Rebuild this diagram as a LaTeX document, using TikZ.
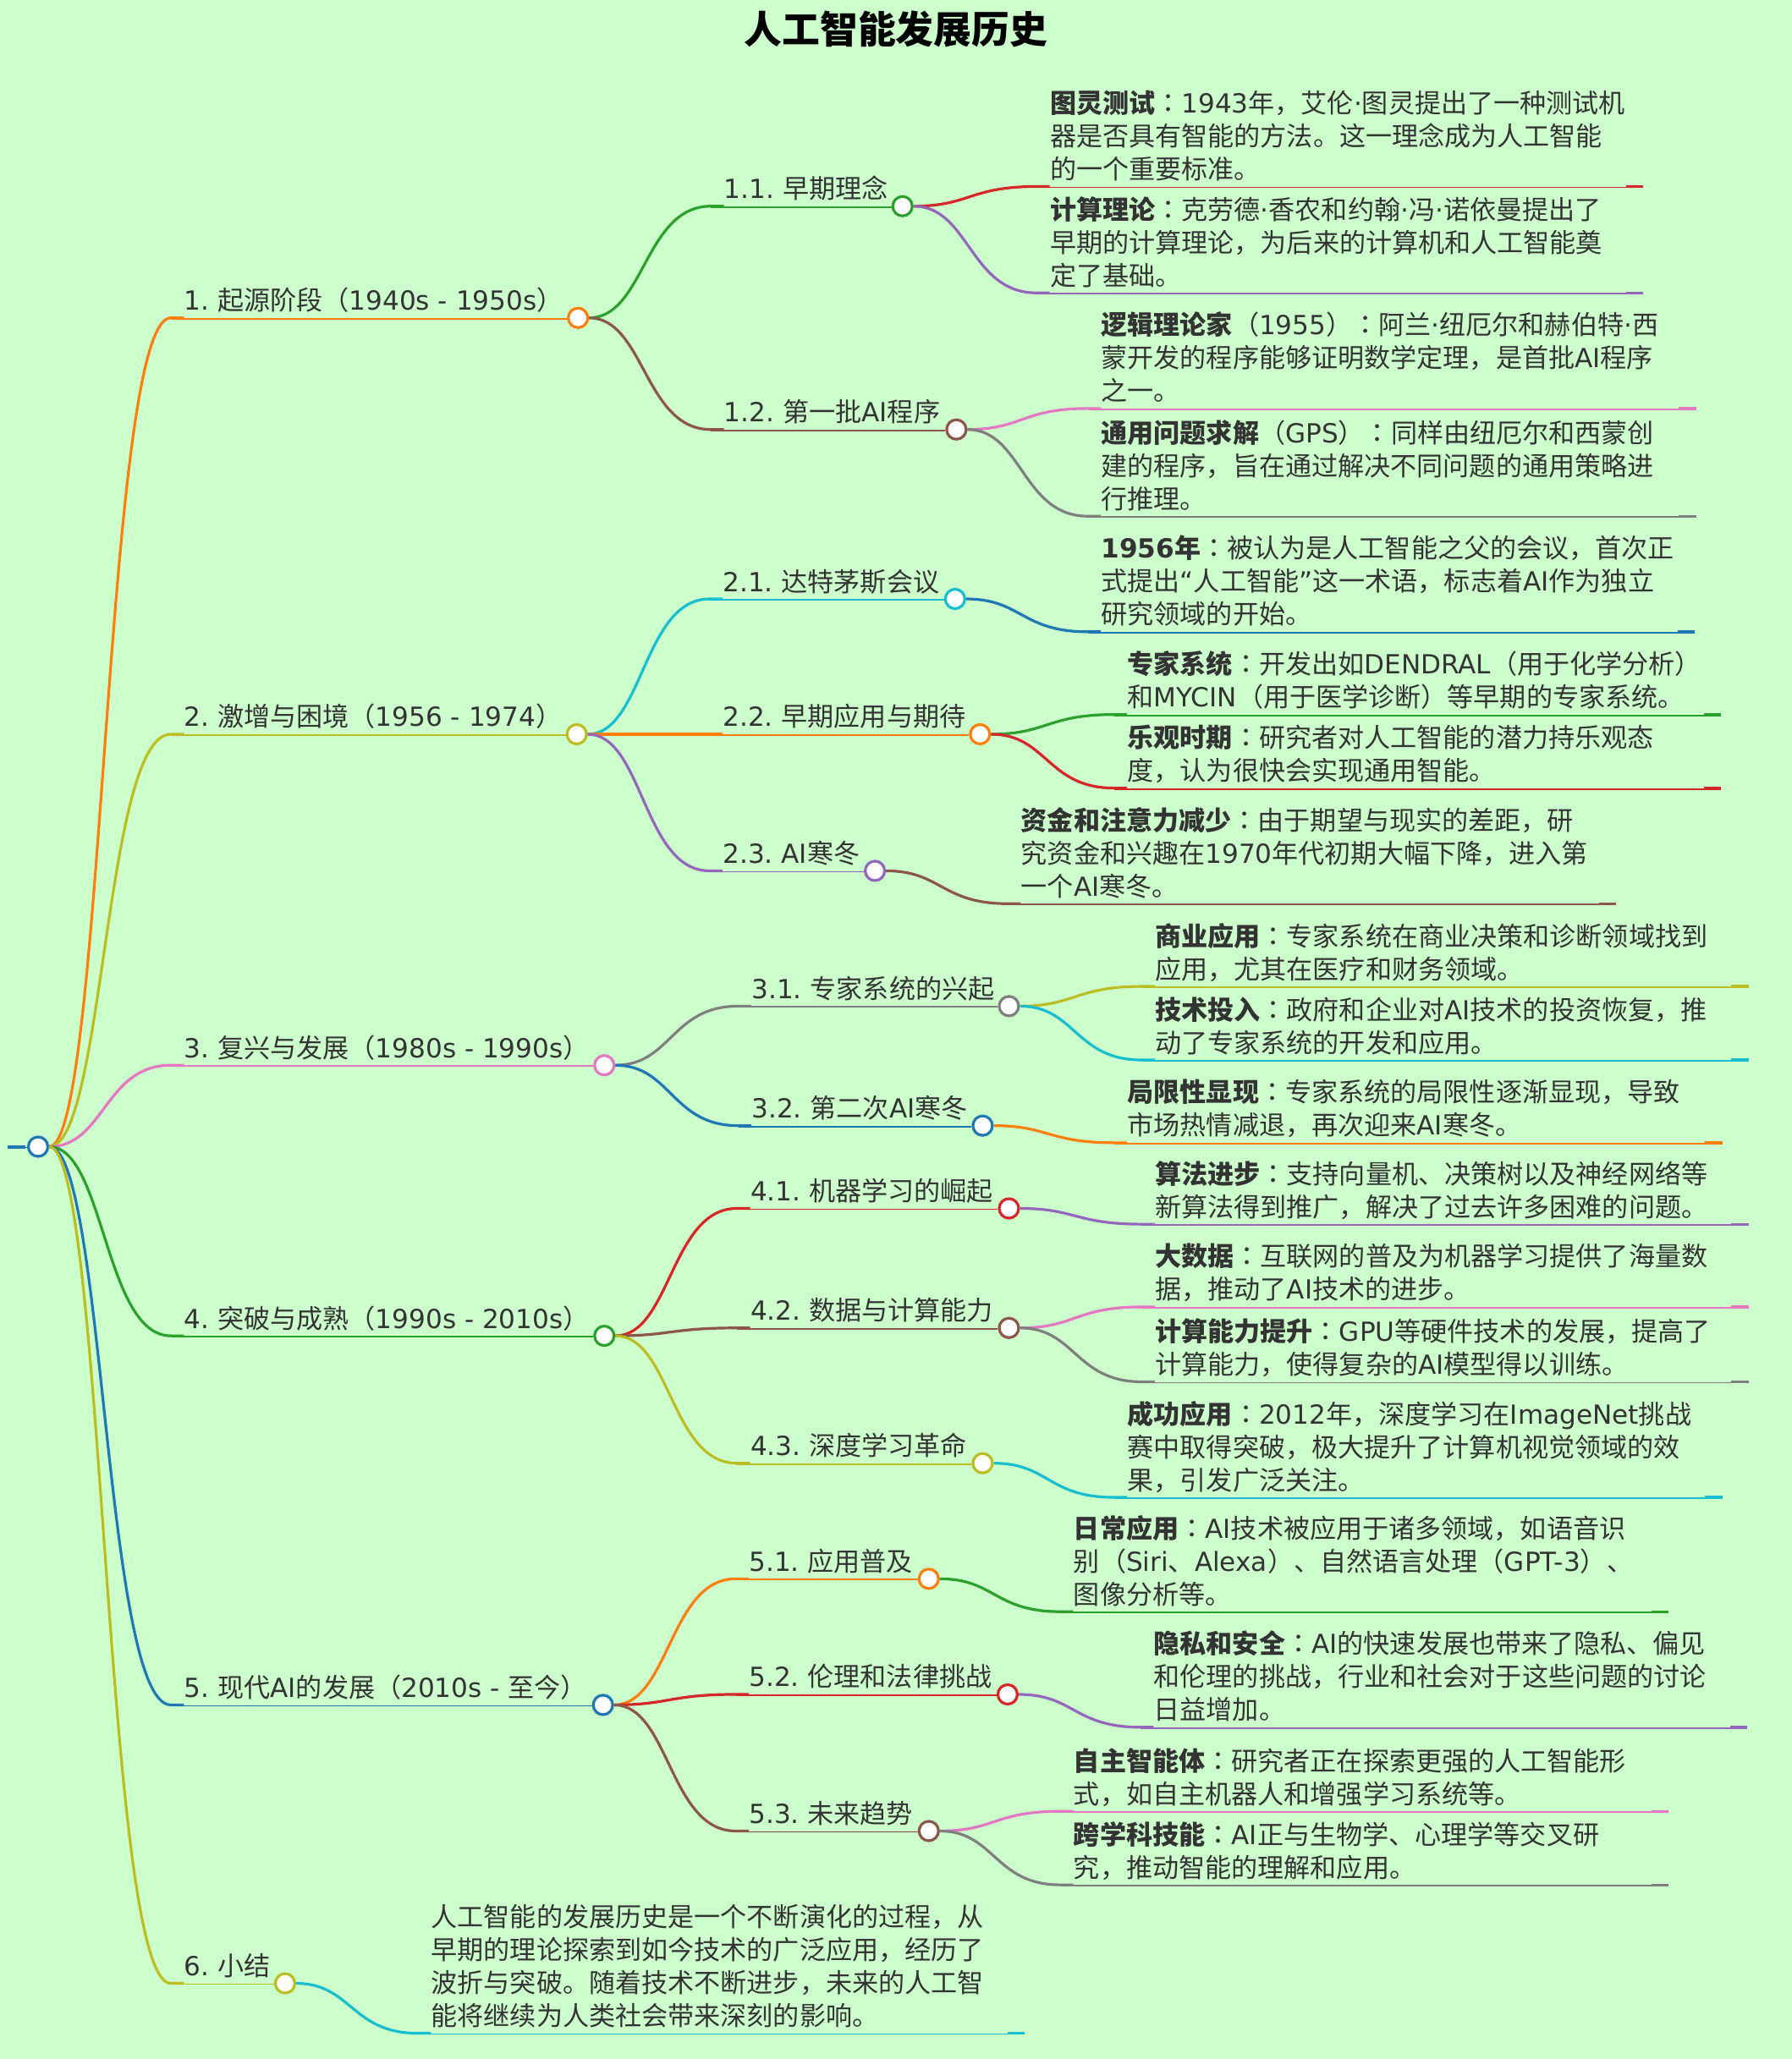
\documentclass[tikz,border=0pt]{standalone}
\usepackage{fontspec}
\usetikzlibrary{calc}
\setmainfont{DejaVu Sans}
\newfontfamily\cjk{Noto Sans CJK SC}
\newfontfamily\cjkpunct{Noto Sans CJK TC}
% Chinese characters switch to the CJK family by themselves
\XeTeXinterchartokenstate=1
\newXeTeXintercharclass\cjkclass
\newXeTeXintercharclass\punctclass
\newcount\cjkchar
\cjkchar="3000 \loop \XeTeXcharclass\cjkchar=\cjkclass \advance\cjkchar by 1 \ifnum\cjkchar<"3040 \repeat
\cjkchar="4E00 \loop \XeTeXcharclass\cjkchar=\cjkclass \advance\cjkchar by 1 \ifnum\cjkchar<"A000 \repeat
\cjkchar="FF00 \loop \XeTeXcharclass\cjkchar=\cjkclass \advance\cjkchar by 1 \ifnum\cjkchar<"FFF0 \repeat
\XeTeXcharclass"FF08=\punctclass
\XeTeXcharclass"FF09=\punctclass
\XeTeXcharclass"FF1A=\punctclass
\XeTeXinterchartoks 0 \cjkclass = {\cjk}
\XeTeXinterchartoks 4095 \cjkclass = {\cjk}
\XeTeXinterchartoks \cjkclass 0 = {\rmfamily}
\XeTeXinterchartoks \cjkclass 4095 = {\rmfamily}
\XeTeXinterchartoks 0 \punctclass = {\cjkpunct}
\XeTeXinterchartoks 4095 \punctclass = {\cjkpunct}
\XeTeXinterchartoks \cjkclass \punctclass = {\cjkpunct}
\XeTeXinterchartoks \punctclass \cjkclass = {\cjk}
\XeTeXinterchartoks \punctclass 0 = {\rmfamily}
\XeTeXinterchartoks \punctclass 4095 = {\rmfamily}
\definecolor{paper}{HTML}{CCFFCC}
\definecolor{ink}{HTML}{333333}
\definecolor{cBlue}{HTML}{1F77B4}
\definecolor{cOrange}{HTML}{FF7F0E}
\definecolor{cGreen}{HTML}{2CA02C}
\definecolor{cRed}{HTML}{D62728}
\definecolor{cPurple}{HTML}{9467BD}
\definecolor{cBrown}{HTML}{8C564B}
\definecolor{cPink}{HTML}{E377C2}
\definecolor{cGray}{HTML}{7F7F7F}
\definecolor{cOlive}{HTML}{BCBD22}
\definecolor{cCyan}{HTML}{17BECF}
\frenchspacing
\tikzset{
  knob/.style={circle, draw=#1, fill=white, line width=1.6pt, minimum size=11.5pt, inner sep=0pt},
  tag/.style={anchor=south west, inner sep=0pt, xshift=7.764pt, yshift=-1.55pt, align=left, text=ink,
    font=\fontsize{15.55}{19.5}\selectfont, execute at end node=\strut},
  link/.style={line width=1.6pt},
  rule/.style={line width=.9pt, transform canvas={yshift=-.5pt}},
  curve/.style={to path={let \p1=(\tikztostart), \p2=(\tikztotarget) in
    .. controls ({(\x1+\x2)/2},\y1) and ({(\x1+\x2)/2},\y2) .. (\tikztotarget)}}
}

\begin{document}
\begin{tikzpicture}[x=.7764pt, y=-.7764pt]
	\fill[paper] (0,0) rectangle (1364,1567.6);
	\useasboundingbox (0,0) rectangle (1364,1567.6);
	\node[font=\fontsize{22.4}{26}\selectfont\bfseries, text=black] (title) at (682,22) {人工智能发展历史};

	% root
	\coordinate (s0) at (6,873);
	\node[knob=cBlue] (n0) at (29,873) {};

	% first level
	\coordinate (s1) at (130,242);
	\node[knob=cOrange] (n1) at (440,242) {};
	\node[tag] (t1) at (s1) {1. 起源阶段（1940s - 1950s）};
	\coordinate (s2) at (130,559);
	\node[knob=cOlive] (n2) at (439,559) {};
	\node[tag] (t2) at (s2) {2. 激增与困境（1956 - 1974）};
	\coordinate (s3) at (130,811);
	\node[knob=cPink] (n3) at (460,811) {};
	\node[tag] (t3) at (s3) {3. 复兴与发展（1980s - 1990s）};
	\coordinate (s4) at (130,1017);
	\node[knob=cGreen] (n4) at (460,1017) {};
	\node[tag] (t4) at (s4) {4. 突破与成熟（1990s - 2010s）};
	\coordinate (s5) at (130,1298);
	\node[knob=cBlue] (n5) at (459,1298) {};
	\node[tag] (t5) at (s5) {5. 现代AI的发展（2010s - 至今）};
	\coordinate (s6) at (130,1510);
	\node[knob=cOlive] (n6) at (217,1510) {};
	\node[tag] (t6) at (s6) {6. 小结};

	% second level
	\coordinate (s11) at (541,157);
	\node[knob=cGreen] (n11) at (687,157) {};
	\node[tag] (t11) at (s11) {1.1. 早期理念};
	\coordinate (s12) at (541,327);
	\node[knob=cBrown] (n12) at (728,327) {};
	\node[tag] (t12) at (s12) {1.2. 第一批AI程序};
	\coordinate (s21) at (540,456);
	\node[knob=cCyan] (n21) at (727,456) {};
	\node[tag] (t21) at (s21) {2.1. 达特茅斯会议};
	\coordinate (s22) at (540,559);
	\node[knob=cOrange] (n22) at (746,559) {};
	\node[tag] (t22) at (s22) {2.2. 早期应用与期待};
	\coordinate (s23) at (540,663);
	\node[knob=cPurple] (n23) at (666,663) {};
	\node[tag] (t23) at (s23) {2.3. AI寒冬};
	\coordinate (s31) at (562,766);
	\node[knob=cGray] (n31) at (768,766) {};
	\node[tag] (t31) at (s31) {3.1. 专家系统的兴起};
	\coordinate (s32) at (562,857);
	\node[knob=cBlue] (n32) at (748,857) {};
	\node[tag] (t32) at (s32) {3.2. 第二次AI寒冬};
	\coordinate (s41) at (561,920);
	\node[knob=cRed] (n41) at (768,920) {};
	\node[tag] (t41) at (s41) {4.1. 机器学习的崛起};
	\coordinate (s42) at (561,1011);
	\node[knob=cBrown] (n42) at (768,1011) {};
	\node[tag] (t42) at (s42) {4.2. 数据与计算能力};
	\coordinate (s43) at (561,1114);
	\node[knob=cOlive] (n43) at (748,1114) {};
	\node[tag] (t43) at (s43) {4.3. 深度学习革命};
	\coordinate (s51) at (560,1202);
	\node[knob=cOrange] (n51) at (707,1202) {};
	\node[tag] (t51) at (s51) {5.1. 应用普及};
	\coordinate (s52) at (560,1290);
	\node[knob=cRed] (n52) at (767,1290) {};
	\node[tag] (t52) at (s52) {5.2. 伦理和法律挑战};
	\coordinate (s53) at (560,1394);
	\node[knob=cBrown] (n53) at (707,1394) {};
	\node[tag] (t53) at (s53) {5.3. 未来趋势};

	% leaves
	\coordinate (s111) at (789,142);
	\coordinate (n111) at (1251,142);
	\node[tag] (t111) at (s111) {\textbf{图灵测试}：1943年，艾伦·图灵提出了一种测试机\\器是否具有智能的方法。这一理念成为人工智能\\的一个重要标准。};
	\coordinate (s112) at (789,223);
	\coordinate (n112) at (1251,223);
	\node[tag] (t112) at (s112) {\textbf{计算理论}：克劳德·香农和约翰·冯·诺依曼提出了\\早期的计算理论，为后来的计算机和人工智能奠\\定了基础。};
	\coordinate (s121) at (828,311);
	\coordinate (n121) at (1291,311);
	\node[tag] (t121) at (s121) {\textbf{逻辑理论家}（1955）：阿兰·纽厄尔和赫伯特·西\\蒙开发的程序能够证明数学定理，是首批AI程序\\之一。};
	\coordinate (s122) at (828,393);
	\coordinate (n122) at (1291,393);
	\node[tag] (t122) at (s122) {\textbf{通用问题求解}（GPS）：同样由纽厄尔和西蒙创\\建的程序，旨在通过解决不同问题的通用策略进\\行推理。};
	\coordinate (s211) at (828,481);
	\coordinate (n211) at (1290,481);
	\node[tag] (t211) at (s211) {\textbf{1956年}：被认为是人工智能之父的会议，首次正\\式提出“人工智能”这一术语，标志着AI作为独立\\研究领域的开始。};
	\coordinate (s221) at (848,544);
	\coordinate (n221) at (1310,544);
	\node[tag] (t221) at (s221) {\textbf{专家系统}：开发出如DENDRAL（用于化学分析）\\和MYCIN（用于医学诊断）等早期的专家系统。};
	\coordinate (s222) at (848,600);
	\coordinate (n222) at (1310,600);
	\node[tag] (t222) at (s222) {\textbf{乐观时期}：研究者对人工智能的潜力持乐观态\\度，认为很快会实现通用智能。};
	\coordinate (s231) at (767,688);
	\coordinate (n231) at (1230,688);
	\node[tag] (t231) at (s231) {\textbf{资金和注意力减少}：由于期望与现实的差距，研\\究资金和兴趣在1970年代初期大幅下降，进入第\\一个AI寒冬。};
	\coordinate (s311) at (869,751);
	\coordinate (n311) at (1331,751);
	\node[tag] (t311) at (s311) {\textbf{商业应用}：专家系统在商业决策和诊断领域找到\\应用，尤其在医疗和财务领域。};
	\coordinate (s312) at (869,807);
	\coordinate (n312) at (1331,807);
	\node[tag] (t312) at (s312) {\textbf{技术投入}：政府和企业对AI技术的投资恢复，推\\动了专家系统的开发和应用。};
	\coordinate (s321) at (848,870);
	\coordinate (n321) at (1311,870);
	\node[tag] (t321) at (s321) {\textbf{局限性显现}：专家系统的局限性逐渐显现，导致\\市场热情减退，再次迎来AI寒冬。};
	\coordinate (s411) at (869,932);
	\coordinate (n411) at (1331,932);
	\node[tag] (t411) at (s411) {\textbf{算法进步}：支持向量机、决策树以及神经网络等\\新算法得到推广，解决了过去许多困难的问题。};
	\coordinate (s421) at (869,995);
	\coordinate (n421) at (1331,995);
	\node[tag] (t421) at (s421) {\textbf{大数据}：互联网的普及为机器学习提供了海量数\\据，推动了AI技术的进步。};
	\coordinate (s422) at (869,1052);
	\coordinate (n422) at (1331,1052);
	\node[tag] (t422) at (s422) {\textbf{计算能力提升}：GPU等硬件技术的发展，提高了\\计算能力，使得复杂的AI模型得以训练。};
	\coordinate (s431) at (848,1140);
	\coordinate (n431) at (1311,1140);
	\node[tag] (t431) at (s431) {\textbf{成功应用}：2012年，深度学习在ImageNet挑战\\赛中取得突破，极大提升了计算机视觉领域的效\\果，引发广泛关注。};
	\coordinate (s511) at (807,1227);
	\coordinate (n511) at (1270,1227);
	\node[tag] (t511) at (s511) {\textbf{日常应用}：AI技术被应用于诸多领域，如语音识\\别（Siri、Alexa）、自然语言处理（GPT-3）、\\图像分析等。};
	\coordinate (s521) at (868,1315);
	\coordinate (n521) at (1330,1315);
	\node[tag] (t521) at (s521) {\textbf{隐私和安全}：AI的快速发展也带来了隐私、偏见\\和伦理的挑战，行业和社会对于这些问题的讨论\\日益增加。};
	\coordinate (s531) at (807,1379);
	\coordinate (n531) at (1270,1379);
	\node[tag] (t531) at (s531) {\textbf{自主智能体}：研究者正在探索更强的人工智能形\\式，如自主机器人和增强学习系统等。};
	\coordinate (s532) at (807,1435);
	\coordinate (n532) at (1270,1435);
	\node[tag] (t532) at (s532) {\textbf{跨学科技能}：AI正与生物学、心理学等交叉研\\究，推动智能的理解和应用。};
	\coordinate (s61) at (318,1548);
	\coordinate (n61) at (780,1548);
	\node[tag] (t61) at (s61) {人工智能的发展历史是一个不断演化的过程，从\\早期的理论探索到如今技术的广泛应用，经历了\\波折与突破。随着技术不断进步，未来的人工智\\能将继续为人类社会带来深刻的影响。};

	% connectors
	\draw[link,cBlue,line width=2pt] (s0) -- ++(13,0);
	\draw[rule,cBlue] (s0) -- (n0);
	\foreach \up/\kid/\hue in {n0/1/cOrange, n0/2/cOlive, n0/3/cPink, n0/4/cGreen, n0/5/cBlue, n0/6/cOlive,
		n1/11/cGreen, n1/12/cBrown, n2/21/cCyan, n2/22/cOrange, n2/23/cPurple,
		n3/31/cGray, n3/32/cBlue, n4/41/cRed, n4/42/cBrown, n4/43/cOlive,
		n5/51/cOrange, n5/52/cRed, n5/53/cBrown} {
		\draw[link,\hue] (\up) to[curve] (s\kid) -- ++(10,0);
		\draw[rule,\hue] (s\kid) -- (n\kid);
	}
	\foreach \up/\kid/\hue in {n11/111/cRed, n11/112/cPurple, n12/121/cPink, n12/122/cGray,
		n21/211/cBlue, n22/221/cGreen, n22/222/cRed, n23/231/cBrown,
		n31/311/cOlive, n31/312/cCyan, n32/321/cOrange, n41/411/cPurple,
		n42/421/cPink, n42/422/cGray, n43/431/cCyan, n51/511/cGreen,
		n52/521/cPurple, n53/531/cPink, n53/532/cGray, n6/61/cCyan} {
		\draw[link,\hue] (\up) to[curve] (s\kid) -- ++(10,0);
		\draw[rule,\hue] (s\kid) -- (n\kid);
		\draw[link,\hue] (n\kid) -- ++(-13,0);
	}
\end{tikzpicture}
\end{document}
